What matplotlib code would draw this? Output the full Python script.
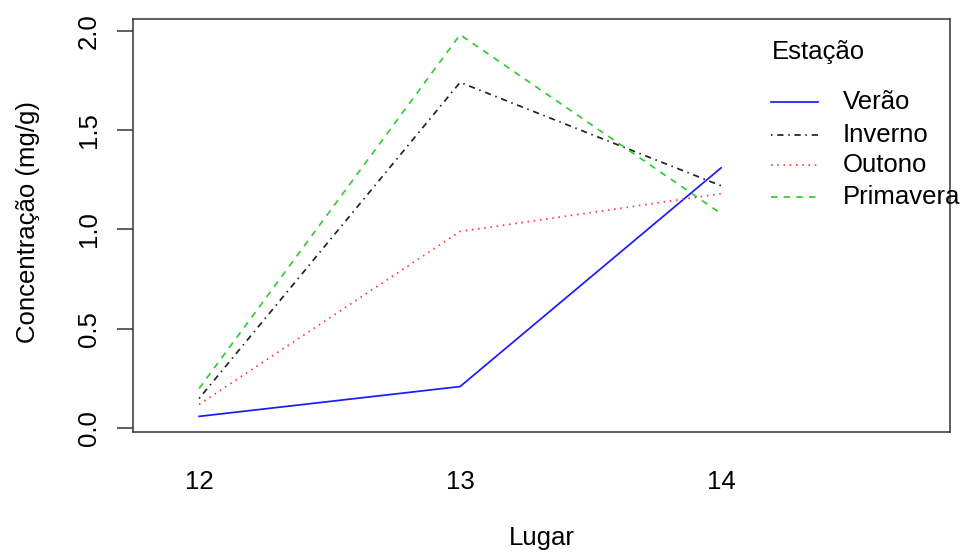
import matplotlib
matplotlib.use("Agg")
import matplotlib.pyplot as plt

plt.rcParams['font.family'] = ['Liberation Sans', 'DejaVu Sans']
plt.rcParams['lines.scale_dashes'] = False

lugares = [12, 13, 14]
series_names = ["Verão", "Inverno", "Outono", "Primavera"]
verao = [0.06, 0.21, 1.31]
inverno = [0.15, 1.74, 1.22]
outono = [0.12, 0.99, 1.18]
primavera = [0.20, 1.98, 1.08]
y_ticks = [0.0, 0.5, 1.0, 1.5, 2.0]
y_tick_labels = ["0.0", "0.5", "1.0", "1.5", "2.0"]

values = [verao, inverno, outono, primavera]
colors = ["#1a1aff", "#222222", "#ff3333", "#33cc33"]
dashes = [None, (1.1, 3.4, 4.5, 3.4), (1.1, 3.4), (4.7, 4.4)]

W, H = 960, 557
fig = plt.figure(figsize=(9.6, 5.57), dpi=100)
ax = fig.add_axes([133.3 / W, 1 - 432 / H, (950 - 133.3) / W, (432 - 19.3) / H])

FS = 18.5
LW = 1.25
for name, vals, c, d in zip(series_names, values, colors, dashes):
    line, = ax.plot(lugares, vals, color=c, linewidth=LW)
    if d is not None:
        line.set_dashes(d)

ax.set_xlim(11.748, 14.877)
ax.set_ylim(-0.0186, 2.0573)

ax.set_yticks(y_ticks)
ax.set_yticklabels(y_tick_labels, rotation=90, va='center', fontsize=FS)
ax.set_xticks(lugares)
ax.set_xticklabels([str(v) for v in lugares], fontsize=FS)
ax.tick_params(axis='y', length=11.5, width=1.1, pad=12, color='#333333')
ax.tick_params(axis='x', length=0, pad=27.5)
for s in ax.spines.values():
    s.set_linewidth(1.1)
    s.set_color('#333333')

ax.set_xlabel("Lugar", fontsize=FS)
ax.xaxis.set_label_coords(0.5, -0.2278)
ax.set_ylabel("Concentração (mg/g)", fontsize=FS)
ax.yaxis.set_label_coords(-0.1142, 0.51)

# legend (R-style, no frame)
leg_y = [1.640, 1.475, 1.324, 1.165]
ax.text(14.193, 1.894, "Estação", fontsize=FS, ha='left', va='center')
for name, c, d, yy in zip(series_names, colors, dashes, leg_y):
    ln, = ax.plot([14.19, 14.373], [yy, yy], color=c, linewidth=LW, clip_on=False)
    if d is not None:
        ln.set_dashes(d)
    ax.text(14.466, yy, name, fontsize=FS, ha='left', va='center', clip_on=False)

fig.savefig("out.png", dpi=100)
